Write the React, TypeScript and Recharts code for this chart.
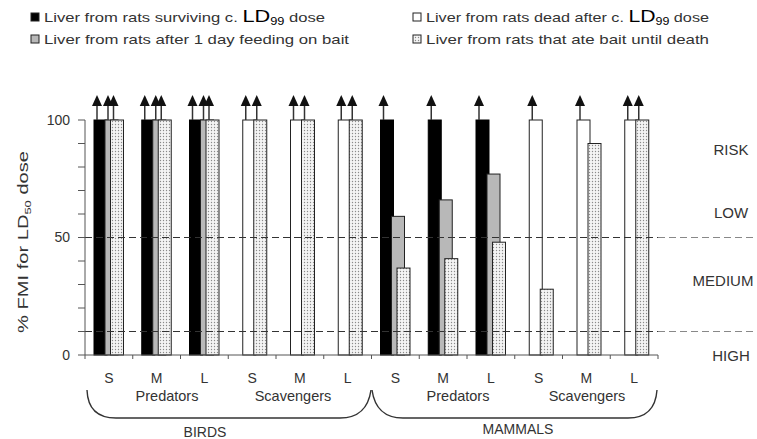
import React from 'react';
import { BarChart, Bar, XAxis, YAxis, ReferenceLine } from 'recharts';

// ---- data ----
const sizeClasses = ['S', 'M', 'L', 'S', 'M', 'L', 'S', 'M', 'L', 'S', 'M', 'L'];
const survivingLD99 = [100, 100, 100, null, null, null, 100, 100, 100, null, null, null];
const deadAfterLD99 = [null, null, null, 100, 100, 100, null, null, null, 100, 100, 100];
const oneDayFeeding = [100, 100, 100, null, null, null, 59, 66, 77, null, null, null];
const ateUntilDeath = [100, 100, 100, 100, 100, 100, 37, 41, 48, 28, 90, 100];
// 1 = value lies beyond the 100 % limit (drawn at 100 with an arrow)
const survivingOff = [1, 1, 1, 0, 0, 0, 1, 1, 1, 0, 0, 0];
const deadAfterOff = [0, 0, 0, 1, 1, 1, 0, 0, 0, 1, 1, 1];
const oneDayOff = [1, 1, 1, 0, 0, 0, 0, 0, 0, 0, 0, 0];
const untilDeathOff = [1, 1, 1, 1, 1, 1, 0, 0, 0, 0, 0, 1];
const yTicks = [0, 10, 20, 30, 40, 50, 60, 70, 80, 90, 100];
const yLabelled = [0, 50, 100];
const thresholds = [50, 10];
const riskZones = ['RISK', 'LOW', 'MEDIUM', 'HIGH'];
const guildLabels = ['Predators', 'Scavengers', 'Predators', 'Scavengers'];
const classLabels = ['BIRDS', 'MAMMALS'];

const rows = sizeClasses.map((c, i) => ({
  cat: c,
  surviving: survivingLD99[i],
  dead: deadAfterLD99[i],
  oneDay: oneDayFeeding[i],
  untilDeath: ateUntilDeath[i],
  survivingOff: survivingOff[i],
  deadOff: deadAfterOff[i],
  oneDayOff: oneDayOff[i],
  untilDeathOff: untilDeathOff[i],
}));

// ---- layout ----
const W = 757;
const H = 439;
const PLOT_LEFT = 85;
const PLOT_RIGHT = 658;
const PLOT_BOTTOM = 355;
const FONT = '"Liberation Sans", Arial, sans-serif';
const TXT = '#333';

const Arrow = ({ x, top }: { x: number; top: number }) => (
  <g>
    <line x1={x} y1={top} x2={x} y2={top - 16} stroke="#333" strokeWidth={1.5} />
    <polygon points={`${x - 5},${top - 14} ${x + 5},${top - 14} ${x},${top - 25}`} fill="#111" />
  </g>
);

const makeShape = (fill: string, stroke: string, key: string, offKey: string) => (props: any) => {
  const { x, y, width, height, payload } = props;
  if (!payload || payload[key] == null || height == null || height <= 0) return <g />;
  return (
    <g>
      <rect x={x} y={y} width={width} height={height} fill={fill} stroke={stroke} strokeWidth={1} />
      {payload[offKey] ? <Arrow x={x + 3} top={y} /> : null}
    </g>
  );
};

const XTick = (props: any) => {
  const { x, payload, index } = props;
  const band = (PLOT_RIGHT - PLOT_LEFT) / sizeClasses.length;
  return (
    <g>
      <line x1={x - band / 2} x2={x - band / 2} y1={PLOT_BOTTOM} y2={PLOT_BOTTOM + 4} stroke="#555" />
      {index === sizeClasses.length - 1 ? (
        <line x1={x + band / 2} x2={x + band / 2} y1={PLOT_BOTTOM} y2={PLOT_BOTTOM + 4} stroke="#555" />
      ) : null}
      <text x={x} y={PLOT_BOTTOM + 28} textAnchor="middle" fontSize={14} fontFamily={FONT} fill={TXT}>
        {payload.value}
      </text>
    </g>
  );
};

const DashLine = (props: any) => {
  const { x1, y1, x2, y2 } = props;
  return (
    <g>
      <line x1={x1} y1={y1} x2={x2} y2={y2} stroke="#333" strokeWidth={1.2} strokeDasharray="7 4" />
      <line x1={x2} y1={y2} x2={W} y2={y2} stroke="#888" strokeWidth={1.2} strokeDasharray="7 4" />
    </g>
  );
};

const LegendSwatch = ({ x, y, fill }: { x: number; y: number; fill: string }) => (
  <rect x={x} y={y} width={8} height={8} fill={fill} stroke="#222" strokeWidth={1} />
);

export default function App() {
  return (
    <div style={{ position: 'absolute', left: 0, top: 0, width: W, height: H, background: '#fff' }}>
      <BarChart
        width={W}
        height={H}
        data={rows}
        margin={{ top: 120, right: 99, bottom: 54, left: 0 }}
        barSize={13}
        barGap={-7.5}
      >
        <XAxis
          dataKey="cat"
          height={30}
          interval={0}
          tickLine={false}
          tick={<XTick />}
          axisLine={{ stroke: '#555' }}
        />
        <YAxis
          width={85}
          domain={[0, 100]}
          ticks={yTicks}
          interval={0}
          tickSize={7}
          tickMargin={8}
          tickLine={{ stroke: '#555' }}
          axisLine={{ stroke: '#555' }}
          tickFormatter={(v: number) => (yLabelled.includes(v) ? String(v) : '')}
          tick={{ fontSize: 14, fontFamily: FONT, fill: TXT }}
        />
        <Bar dataKey="surviving" isAnimationActive={false} shape={makeShape('#000', '#000', 'surviving', 'survivingOff')} />
        <Bar dataKey="dead" isAnimationActive={false} shape={makeShape('#fff', '#222', 'dead', 'deadOff')} />
        <Bar dataKey="oneDay" isAnimationActive={false} shape={makeShape('#b8b8b8', '#222', 'oneDay', 'oneDayOff')} />
        <Bar dataKey="untilDeath" isAnimationActive={false} shape={makeShape('url(#dots)', '#222', 'untilDeath', 'untilDeathOff')} />
        {thresholds.map((t) => (
          <ReferenceLine key={t} y={t} shape={<DashLine />} ifOverflow="extendDomain" />
        ))}
      </BarChart>

      <svg
        width={W}
        height={H}
        style={{ position: 'absolute', left: 0, top: 0, pointerEvents: 'none' }}
        fontFamily={FONT}
      >
        <defs>
          <pattern id="dots" width={3} height={3} patternUnits="userSpaceOnUse">
            <rect width={3} height={3} fill="#f4f4f4" />
            <circle cx={1.5} cy={1.5} r={0.7} fill="#8a8a8a" />
          </pattern>
        </defs>

        {/* legend */}
        <LegendSwatch x={31} y={13} fill="#000" />
        <text x={44} y={22} fontSize={13} fill={TXT} textLength={281} lengthAdjust="spacingAndGlyphs">
          Liver from rats surviving c.{' '}
          <tspan fontSize={17} fill="#000">LD</tspan>
          <tspan fontSize={10} dy={3} fill="#000">99</tspan>
          <tspan dy={-3}> dose</tspan>
        </text>
        <LegendSwatch x={31} y={35} fill="#b8b8b8" />
        <text x={44} y={44} fontSize={13} fill={TXT} textLength={305} lengthAdjust="spacingAndGlyphs">
          Liver from rats after 1 day feeding on bait
        </text>
        <LegendSwatch x={413} y={13} fill="#fff" />
        <text x={426} y={22} fontSize={13} fill={TXT} textLength={283} lengthAdjust="spacingAndGlyphs">
          Liver from rats dead after c.{' '}
          <tspan fontSize={17} fill="#000">LD</tspan>
          <tspan fontSize={10} dy={3} fill="#000">99</tspan>
          <tspan dy={-3}> dose</tspan>
        </text>
        <LegendSwatch x={413} y={35} fill="url(#dots)" />
        <text x={426} y={44} fontSize={13} fill={TXT} textLength={283} lengthAdjust="spacingAndGlyphs">
          Liver from rats that ate bait until death
        </text>

        {/* y axis title */}
        <text
          transform="translate(28,242) rotate(-90)"
          x={-91}
          fontSize={14}
          fill={TXT}
          textLength={182}
          lengthAdjust="spacingAndGlyphs"
        >
          % FMI for LD<tspan fontSize={9} dy={3}>50</tspan>
          <tspan dy={-3}> dose</tspan>
        </text>

        {/* risk zones */}
        <text x={731} y={155} textAnchor="middle" fontSize={15} fill={TXT}>{riskZones[0]}</text>
        <text x={731} y={218} textAnchor="middle" fontSize={15} fill={TXT}>{riskZones[1]}</text>
        <text x={723} y={286} textAnchor="middle" fontSize={15} fill={TXT}>{riskZones[2]}</text>
        <text x={731} y={361} textAnchor="middle" fontSize={15} fill={TXT}>{riskZones[3]}</text>

        {/* guild labels */}
        <text x={167} y={401} textAnchor="middle" fontSize={14.5} fill={TXT}>{guildLabels[0]}</text>
        <text x={293} y={401} textAnchor="middle" fontSize={14.5} fill={TXT}>{guildLabels[1]}</text>
        <text x={458} y={401} textAnchor="middle" fontSize={14.5} fill={TXT}>{guildLabels[2]}</text>
        <text x={587} y={401} textAnchor="middle" fontSize={14.5} fill={TXT}>{guildLabels[3]}</text>

        {/* braces */}
        <path d="M 87 390 Q 88 418 116 418 L 340 418 Q 367 418 371 390" fill="none" stroke="#333" strokeWidth={1.4} />
        <path d="M 372 390 Q 376 418 403 418 L 628 418 Q 655 418 657 390" fill="none" stroke="#333" strokeWidth={1.4} />
        <text x={205} y={437} textAnchor="middle" fontSize={14} fill={TXT}>{classLabels[0]}</text>
        <text x={518} y={434} textAnchor="middle" fontSize={14} fill={TXT}>{classLabels[1]}</text>
      </svg>
    </div>
  );
}
